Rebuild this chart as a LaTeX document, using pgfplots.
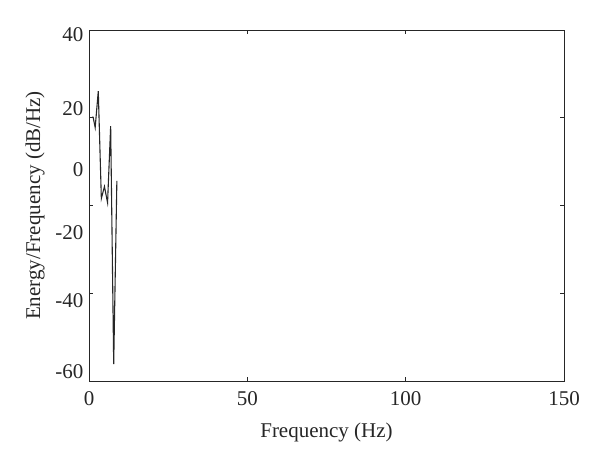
\documentclass[border=0pt]{standalone}
\usepackage{pgfplots}
\pgfplotsset{compat=1.18}
\usepackage{fontspec}
\setmainfont{Liberation Serif}
\begin{document}
\begin{tikzpicture}
\path[use as bounding box] (0,0) rectangle (600bp,464bp);
\begin{axis}[
  at={(89bp,83bp)}, anchor=south west,
  width=475bp, height=351bp, scale only axis,
  xmin=0, xmax=150, ymin=-60, ymax=40,
  xtick={0,50,100,150},
  ytick={40,15,-10,-35,-60},
  yticklabels={},
  extra y ticks={38.8,17.5,0.3,-17.6,-37.2,-57.2},
  extra y tick labels={40,20,0,-20,-40,-60},
  extra y tick style={major tick length=0pt, tick style={draw=none}},
  tick align=inside,
  major tick length=4bp,
  axis line style={line width=1pt, black!85},
  tick style={line width=0.9pt, black!85},
  /pgf/number format/assume math mode=true,
  ticklabel style={font=\fontsize{21bp}{24bp}\selectfont, text=black!85},
  xticklabel style={yshift=-7bp},
  yticklabel style={xshift=-2bp},
  xlabel={Frequency (Hz)},
  ylabel={Energy/Frequency (dB/Hz)},
  label style={font=\fontsize{21bp}{24bp}\selectfont, text=black!85},
  xlabel style={yshift=-10bp},
  ylabel style={yshift=4bp},
]
\addplot[line width=1.1pt, black!85] coordinates {
(0.98,15.2) (1.3,15.2) (1.95,12.2) (2.93,22.6) (3.9,-8.0) (4.88,-4.6) (5.86,-9.2) (6.84,12.6) (7.8,-55.2) (8.8,-3.0)
};
\end{axis}
\end{tikzpicture}
\end{document}
